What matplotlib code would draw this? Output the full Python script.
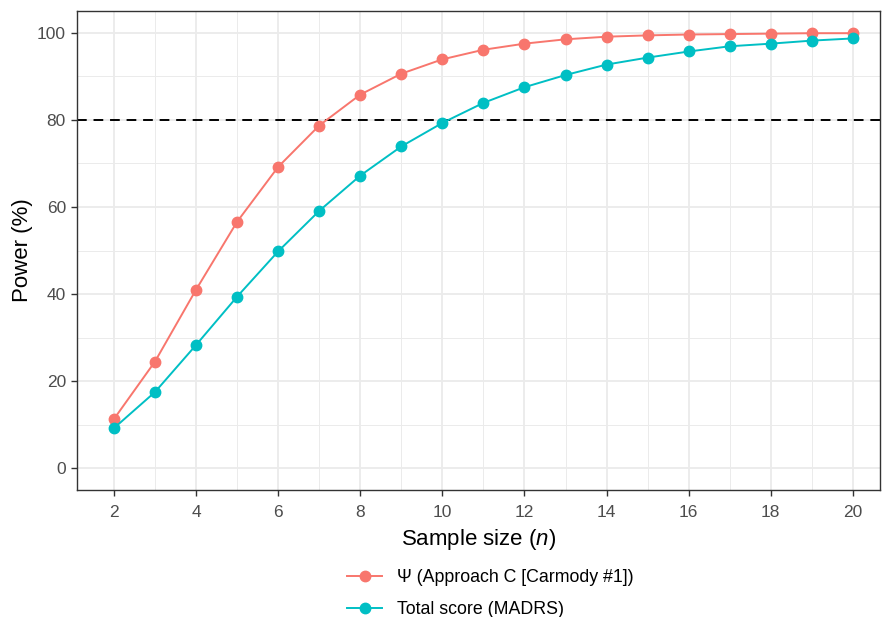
import numpy as np
import matplotlib
matplotlib.use("Agg")
import matplotlib.pyplot as plt
from matplotlib.ticker import MultipleLocator

plt.rcParams['font.family'] = ['Liberation Sans', 'DejaVu Sans']
plt.rcParams['mathtext.fontset'] = 'custom'
plt.rcParams['mathtext.rm'] = 'Liberation Sans'
plt.rcParams['mathtext.it'] = 'Liberation Sans:italic'

n = np.arange(2, 21)
power_psi = [11.3, 24.5, 41.0, 56.6, 69.2, 78.7, 85.8, 90.6, 93.9, 96.1,
             97.5, 98.5, 99.1, 99.4, 99.6, 99.7, 99.8, 99.9, 99.9]
power_total = [9.2, 17.5, 28.3, 39.4, 49.8, 59.1, 67.2, 73.9, 79.3, 83.9,
               87.5, 90.3, 92.7, 94.3, 95.7, 96.9, 97.5, 98.2, 98.7]
labels = ['\u03A8 (Approach C [Carmody #1])', 'Total score (MADRS)']
colors = ['#F8766D', '#00BFC4']
target = 80

fig = plt.figure(figsize=(8.82, 6.17), dpi=100)
ax = fig.add_axes([77/882, 1 - 490/617, 803/882, 479/617])

ax.axhline(target, color='black', linestyle=(0, (5, 3.5)), linewidth=1.4, zorder=2)
for ys, c, lab in zip([power_psi, power_total], colors, labels):
    ax.plot(n, ys, color=c, linewidth=1.4, marker='o', markersize=7.5,
            label=lab, zorder=3)

ax.set_xlim(1.1, 20.66)
ax.set_ylim(-5, 105)
ax.xaxis.set_major_locator(MultipleLocator(2))
ax.xaxis.set_minor_locator(MultipleLocator(1))
ax.yaxis.set_major_locator(MultipleLocator(20))
ax.yaxis.set_minor_locator(MultipleLocator(10))
ax.grid(which='major', color='#EBEBEB', linewidth=1.3, zorder=0)
ax.grid(which='minor', color='#EBEBEB', linewidth=0.7, zorder=0)
ax.set_axisbelow(True)
for s in ax.spines.values():
    s.set_color('#333333')
    s.set_linewidth(1.0)
ax.tick_params(which='major', color='#333333', length=4, width=1.0, pad=4,
               labelsize=12.5, labelcolor='#4D4D4D')
ax.tick_params(axis='x', which='major', pad=7)
ax.tick_params(which='minor', length=0)

ax.set_xlabel('Sample size ($\\mathit{n}$)', fontsize=16, labelpad=5)
ax.set_ylabel('Power (%)', fontsize=16, labelpad=3)

fig.legend(loc='upper center', bbox_to_anchor=(490/882, 1 - 553/617),
           ncol=1, frameon=False, fontsize=12.8, handlelength=2.0,
           labelspacing=0.85, handletextpad=0.8)

fig.savefig('out.png', dpi=100)
